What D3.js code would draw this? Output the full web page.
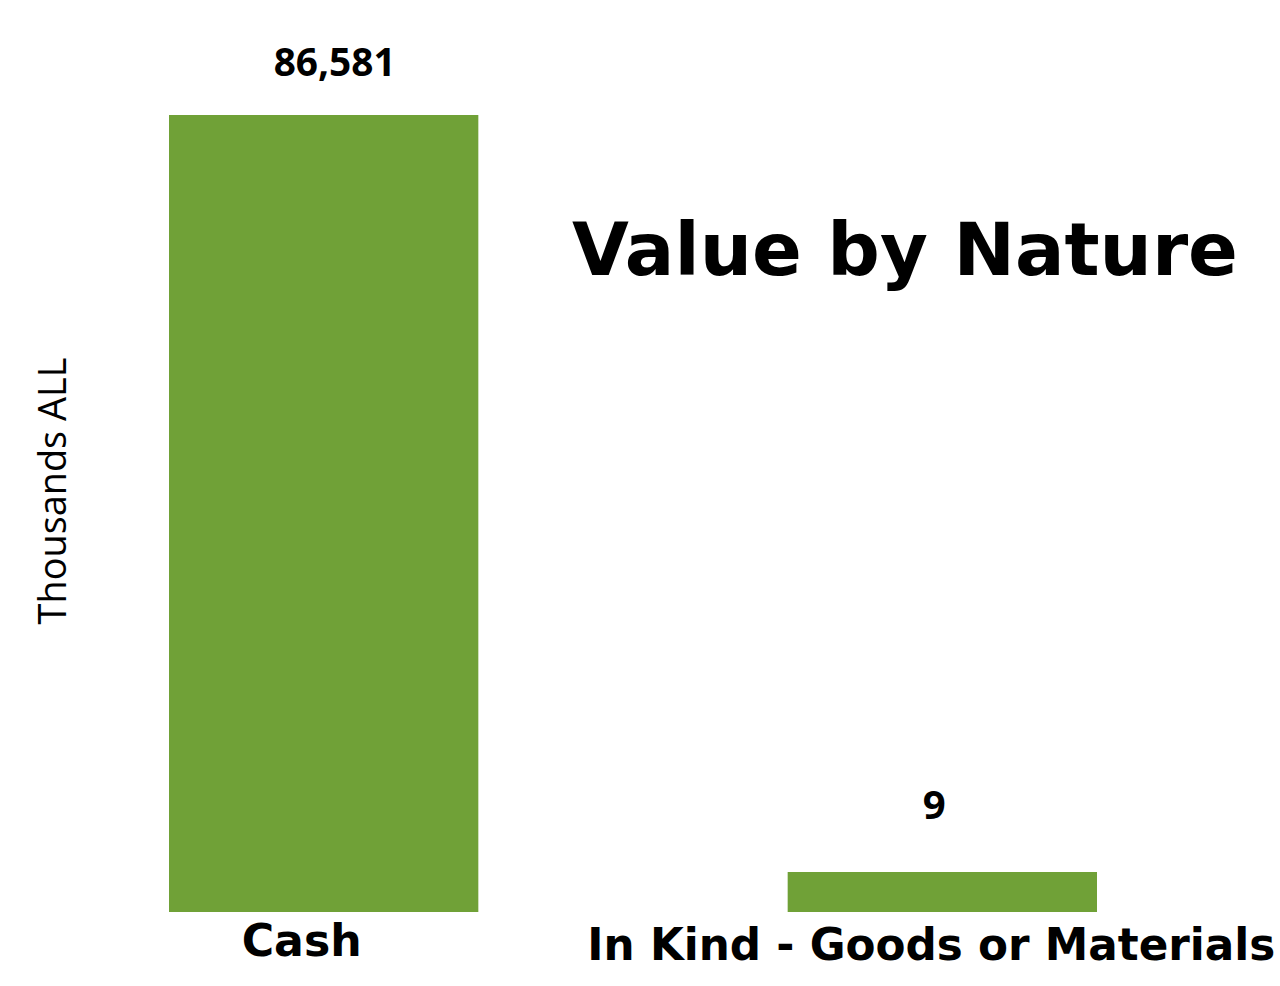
<!DOCTYPE html>
<html><head><meta charset="utf-8">
<script src="https://cdn.jsdelivr.net/npm/d3@7"></script>
<style>html,body{margin:0;padding:0;background:#fff;}svg{display:block;}</style>
</head><body>
<svg id="chart" width="1280" height="986"></svg>
<script>
const categories = ["Cash", "In Kind - Goods or Materials"];
const values = [86581, 9];
const valueLabels = ["86,581", "9"];
const title = "Value by Nature";
const yAxisTitle = "Thousands ALL";

const svg = d3.select("#chart");
const W = 1280, H = 986;
const margin = {left: 169, right: 183, top: 115, bottom: 74};
const x = d3.scaleBand().domain(categories).range([margin.left, W - margin.right]).paddingInner(0.5).paddingOuter(0);
const y = d3.scaleLinear().domain([0, d3.max(values)]).range([H - margin.bottom, margin.top]);
const minH = 40;
const fontB = "'DejaVu Sans', sans-serif";

function fit(sel, target) {
  const n = sel.node();
  const fs = parseFloat(sel.attr("font-size"));
  const w = n.getComputedTextLength();
  sel.attr("font-size", fs * target / w);
}

const data = categories.map((c, i) => ({c, v: values[i], lab: valueLabels[i]}));
const g = svg.append("g");
g.selectAll("rect").data(data).join("rect")
  .attr("x", d => x(d.c))
  .attr("width", x.bandwidth())
  .attr("y", d => Math.min(y(d.v), y(0) - minH))
  .attr("height", d => Math.max(y(0) - y(d.v), minH))
  .attr("fill", "#70a137");

// value labels
const vlOff = [11, -8];
const vlDy = [39, 53];
const vlW = [122, 23];
data.forEach((d, i) => {
  const top = Math.min(y(d.v), y(0) - minH);
  const t = g.append("text").attr("x", x(d.c) + x.bandwidth() / 2 + vlOff[i]).attr("y", top - vlDy[i])
    .attr("text-anchor", "middle").attr("font-family", "'Open Sans', sans-serif").attr("font-weight", 700)
    .attr("font-size", 38).attr("fill", "#000").text(d.lab);
  fit(t, vlW[i]);
});

// category labels
const clOff = [-22, -11];
const clW = [120, 688];
const clY = [956, 960];
data.forEach((d, i) => {
  const t = g.append("text").attr("x", x(d.c) + x.bandwidth() / 2 + clOff[i]).attr("y", clY[i])
    .attr("text-anchor", "middle").attr("font-family", fontB).attr("font-weight", 700)
    .attr("font-size", 44).attr("fill", "#000").text(d.c);
  fit(t, clW[i]);
});

// title
const tt = svg.append("text").attr("x", 905).attr("y", 275).attr("text-anchor", "middle")
  .attr("font-family", fontB).attr("font-weight", 700).attr("font-size", 80).attr("fill", "#000").text(title);
fit(tt, 666);

// y axis title
const yt = svg.append("text").attr("transform", "translate(66,491) rotate(-90)").attr("text-anchor", "middle")
  .attr("font-family", "'Open Sans', sans-serif").attr("font-size", 36).attr("fill", "#000").text(yAxisTitle);
fit(yt, 267);
</script>
</body></html>
